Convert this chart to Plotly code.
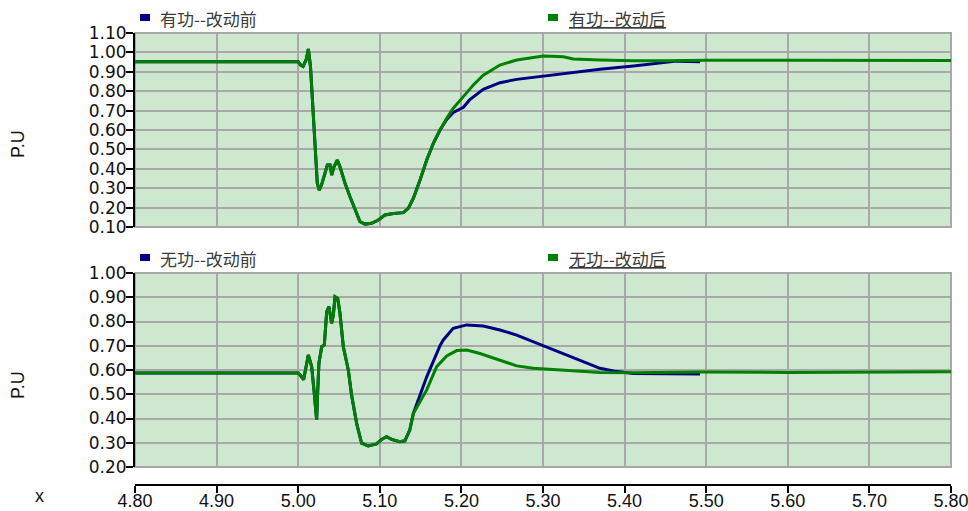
import plotly.graph_objects as go

# ---------------- data ----------------
# Active power (有功), after change (green)
p_after_x = [4.80, 4.90, 5.000, 5.003, 5.006, 5.010, 5.0124, 5.0150, 5.0166, 5.0185, 5.0206,
             5.0218, 5.0234, 5.0258, 5.0288, 5.0328, 5.0357, 5.0390, 5.0410, 5.0439, 5.0479,
             5.0512, 5.0574, 5.0635, 5.0696, 5.0757, 5.0818, 5.0900, 5.0982, 5.1063, 5.1166,
             5.1288, 5.1349, 5.1411, 5.1493, 5.1575, 5.1656, 5.1738, 5.1820, 5.1901, 5.2024,
             5.2146, 5.2268, 5.2473, 5.2678, 5.2881, 5.3004, 5.3249, 5.3371, 5.3699, 5.4107,
             5.4516, 5.5000, 5.6000, 5.7000, 5.8000]
p_after_y = [0.952, 0.952, 0.952, 0.935, 0.928, 0.965, 1.018, 0.930, 0.823, 0.703, 0.565,
             0.428, 0.325, 0.290, 0.320, 0.377, 0.420, 0.420, 0.368, 0.410, 0.445,
             0.410, 0.325, 0.256, 0.188, 0.128, 0.115, 0.119, 0.136, 0.162, 0.170,
             0.174, 0.196, 0.248, 0.342, 0.445, 0.531, 0.600, 0.660, 0.712, 0.772,
             0.832, 0.883, 0.935, 0.961, 0.975, 0.981, 0.978, 0.966, 0.961, 0.957,
             0.957, 0.960, 0.960, 0.958, 0.958]

# Active power (有功), before change (navy)
p_before_x = p_after_x[:38] + [5.1820, 5.1901, 5.2024, 5.2100, 5.2268, 5.2473, 5.2678,
                               5.3004, 5.3290, 5.3699, 5.4107, 5.4516, 5.4638, 5.4924]
p_before_y = p_after_y[:38] + [0.655, 0.690, 0.717, 0.755, 0.810, 0.844, 0.861,
                               0.878, 0.892, 0.913, 0.930, 0.947, 0.955, 0.952]

# Reactive power (无功), after change (green)
q_after_x = [4.80, 4.90, 5.000, 5.0040, 5.0066, 5.0124, 5.0165, 5.0193, 5.0226, 5.0238,
             5.0254, 5.0288, 5.0320, 5.0349, 5.0377, 5.0410, 5.0431, 5.0451, 5.0484, 5.0512,
             5.0553, 5.0614, 5.0654, 5.0716, 5.0777, 5.0858, 5.0960, 5.1022, 5.1083, 5.1144,
             5.1246, 5.1307, 5.1368, 5.1411, 5.1575, 5.1697, 5.1820, 5.1943, 5.2065, 5.2228,
             5.2473, 5.2678, 5.2881, 5.3289, 5.3699, 5.4107, 5.4924, 5.6000, 5.7000, 5.8000]
q_after_y = [0.588, 0.588, 0.588, 0.572, 0.560, 0.662, 0.614, 0.518, 0.394, 0.504,
             0.628, 0.696, 0.703, 0.840, 0.861, 0.793, 0.827, 0.902, 0.895, 0.834,
             0.696, 0.600, 0.497, 0.380, 0.298, 0.287, 0.295, 0.314, 0.325, 0.314,
             0.304, 0.308, 0.353, 0.421, 0.518, 0.614, 0.658, 0.680, 0.682, 0.668,
             0.641, 0.617, 0.607, 0.597, 0.590, 0.589, 0.592, 0.590, 0.590, 0.593]

# Reactive power (无功), before change (navy)
q_before_x = q_after_x[:34] + [5.1575, 5.1738, 5.1778, 5.1900, 5.2065, 5.2268, 5.2473,
                               5.2678, 5.2881, 5.3086, 5.3290, 5.3494, 5.3699, 5.3863,
                               5.4107, 5.4924]
q_before_y = q_after_y[:34] + [0.572, 0.700, 0.724, 0.772, 0.786, 0.781, 0.765,
                               0.744, 0.717, 0.689, 0.662, 0.637, 0.607, 0.596,
                               0.586, 0.584]

x_ticks = [4.80, 4.90, 5.00, 5.10, 5.20, 5.30, 5.40, 5.50, 5.60, 5.70, 5.80]
top_labels = ["有功--改动前", "有功--改动后"]
bot_labels = ["无功--改动前", "无功--改动后"]

# ---------------- style ----------------
W, H = 968, 511
NAVY = "#000080"
GREEN = "#008000"
BG = "#cde8cf"
GRID = "#a8a8a8"

def px(x):
    return x / W

def py(y):
    return 1 - y / H

fig = go.Figure()
fig.add_trace(go.Scatter(x=p_before_x, y=p_before_y, mode="lines", line=dict(color=NAVY, width=3),
                         xaxis="x", yaxis="y", showlegend=False))
fig.add_trace(go.Scatter(x=p_after_x, y=p_after_y, mode="lines", line=dict(color=GREEN, width=3),
                         xaxis="x", yaxis="y", showlegend=False))
fig.add_trace(go.Scatter(x=q_before_x, y=q_before_y, mode="lines", line=dict(color=NAVY, width=3),
                         xaxis="x2", yaxis="y2", showlegend=False))
fig.add_trace(go.Scatter(x=q_after_x, y=q_after_y, mode="lines", line=dict(color=GREEN, width=3),
                         xaxis="x2", yaxis="y2", showlegend=False))

xdom = [px(135), px(951)]
common_x = dict(range=[4.8, 5.8], tickmode="array", tickvals=x_ticks,
                ticktext=[f"{v:.2f}" for v in x_ticks], showgrid=True, gridcolor=GRID,
                gridwidth=2, zeroline=False, domain=xdom, automargin=False)
ytickfont = dict(family="DejaVu Sans", size=17, color="#111111")
common_y = dict(dtick=0.1, tickformat=".2f", showgrid=True, gridcolor=GRID, gridwidth=2,
                zeroline=False, showline=True, linecolor="black", linewidth=2,
                ticks="outside", ticklen=7, tickwidth=2, tickcolor="black",
                tickfont=ytickfont, ticklabelstandoff=-4, automargin=False)

fig.update_layout(
    width=W, height=H, autosize=False,
    margin=dict(l=0, r=0, t=0, b=0, pad=0, autoexpand=False),
    paper_bgcolor="white", plot_bgcolor=BG,
    showlegend=False,
    xaxis=dict(**common_x, anchor="y", showticklabels=False, ticks="", showline=False),
    yaxis=dict(**common_y, range=[0.1, 1.1], tick0=0.1, domain=[py(227), py(33)], anchor="x"),
    xaxis2=dict(**common_x, anchor="free", position=py(485), showline=True, linecolor="black",
                linewidth=2, ticks="outside", ticklen=7, tickwidth=2, tickcolor="black",
                ticklabelstandoff=-8, ticklabeloverflow="allow",
                tickfont=dict(family="Liberation Sans", size=18, color="#111111")),
    yaxis2=dict(**common_y, range=[0.2, 1.0], tick0=0.2, domain=[py(467), py(273)], anchor="x2"),
)

shapes = []
# plot borders (gray)
for xr, yr in (("x domain", "y domain"), ("x2 domain", "y2 domain")):
    shapes.append(dict(type="rect", xref=xr, yref=yr, x0=0, x1=1, y0=0, y1=1,
                       line=dict(color=GRID, width=2), fillcolor="rgba(0,0,0,0)", layer="below"))

annotations = []
legend_font = dict(family="Noto Sans CJK SC", size=17, color="#3a3a3a")
for ycenter, labels in ((18, top_labels), (258, bot_labels)):
    for i, (mx, tx) in enumerate(((140, 158), (548, 567))):
        color = NAVY if i == 0 else GREEN
        shapes.append(dict(type="rect", xref="paper", yref="paper",
                           x0=px(mx), x1=px(mx + 10), y0=py(ycenter + 3), y1=py(ycenter - 4),
                           line=dict(width=0), fillcolor=color))
        text = labels[i] if i == 0 else f"<u>{labels[i]}</u>"
        annotations.append(dict(xref="paper", yref="paper", x=px(tx), y=py(ycenter),
                                xanchor="left", yanchor="middle", showarrow=False,
                                text=text, font=legend_font))

label_font = dict(family="Liberation Sans", size=18, color="#111111")
for yc in (144, 385):
    annotations.append(dict(xref="paper", yref="paper", x=px(18), y=py(yc), text="P.U",
                            textangle=-90, showarrow=False, xanchor="center", yanchor="middle",
                            font=label_font))
annotations.append(dict(xref="paper", yref="paper", x=px(39), y=py(496), text="x",
                        showarrow=False, xanchor="center", yanchor="middle", font=label_font))

fig.update_layout(shapes=shapes, annotations=annotations)
fig.write_html("out.html", config={"displayModeBar": False},
               post_script="document.body.style.margin='0';document.body.style.padding='0';")
